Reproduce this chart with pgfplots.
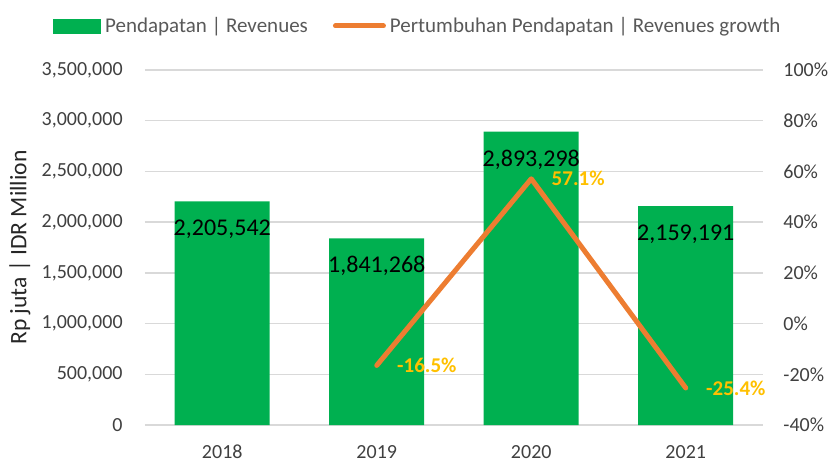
\documentclass[border=0pt]{standalone}
\usepackage{fontspec}
\setmainfont{Carlito}
\usepackage{pgfplots}
\usepackage{pgfplotstable}
\pgfplotsset{compat=1.18}

\definecolor{revgreen}{HTML}{00B050}
\definecolor{groworange}{HTML}{ED7D31}
\definecolor{labgold}{HTML}{FFC000}
\definecolor{gridgray}{HTML}{D9D9D9}
\definecolor{ticktext}{HTML}{404040}
\definecolor{legtext}{HTML}{595959}

% revenues, Rp juta
\pgfplotstableread{
x rev lab
0 2205542 2,205,542
1 1841268 1,841,268
2 2893298 2,893,298
3 2159191 2,159,191
}\revtable

% revenue growth, percent
\pgfplotstableread{
x growth lab
1 -16.5 -16.5
2 57.1 57.1
3 -25.4 -25.4
}\growthtable

\begin{document}
\begin{tikzpicture}
\pgfplotsset{
  base/.style={
    width=309pt, height=177.5pt, scale only axis,
    xmin=-0.5, xmax=3.5,
    major tick length=0pt,
    axis line style={draw=none},
    tick label style={font=\fontsize{10}{12}\selectfont, text=ticktext},
    /pgf/number format/assume math mode=true,
  },
}
\begin{axis}[base,
  ymin=0, ymax=3500000,
  ytick={0,500000,1000000,1500000,2000000,2500000,3000000,3500000},
  scaled y ticks=false,
  yticklabel style={/pgf/number format/fixed, /pgf/number format/precision=0,
    /pgf/number format/1000 sep={,}, anchor=east, xshift=-11pt, inner xsep=0pt},
  xtick={0,1,2,3},
  xticklabels={2018,2019,2020,2021},
  xticklabel style={anchor=center, yshift=-13.5pt},
  ymajorgrids,
  grid style={gridgray, line width=0.75pt},
  ylabel={Rp juta | IDR Million},
  ylabel style={at={(axis description cs:-0.2023,0.5)}, anchor=center,
    font=\fontsize{11.8}{14}\selectfont, text=black!85},
  ybar, bar width=47.5pt,
]
\addplot[fill=revgreen, draw=none,
  nodes near coords={\pgfplotspointmeta},
  point meta=explicit symbolic,
  nodes near coords style={anchor=center, yshift=-14pt, text=black,
    font=\fontsize{12}{14}\selectfont}]
  table[x=x, y=rev, meta=lab] {\revtable};
\end{axis}

\begin{axis}[base,
  hide x axis,
  ymin=-40, ymax=100,
  ytick={-40,-20,0,20,40,60,80,100},
  yticklabel pos=right,
  yticklabel={\pgfmathprintnumber{\tick}\%},
  yticklabel style={anchor=west, xshift=10pt, inner xsep=0pt},
  legend columns=-1,
  legend style={at={(-0.1489,1.124)}, anchor=west, draw=none, fill=none,
    inner sep=0pt, font=\fontsize{10.5}{12}\selectfont, text=legtext,
    /tikz/every even column/.append style={column sep=10.5pt}},
]
\addlegendimage{legend image code/.code={\fill[revgreen] (0pt,-3.5pt) rectangle (23.5pt,3.5pt);}}
\addlegendentry{Pendapatan | Revenues}
\addplot[groworange, line width=2.5pt, line cap=round, line join=round, mark=none,
  nodes near coords={\pgfplotspointmeta\%},
  point meta=explicit symbolic,
  nodes near coords style={anchor=west, xshift=9pt, inner sep=0pt, text=labgold,
    font=\bfseries\fontsize{10.5}{12}\selectfont},
  legend image code/.code={\draw[groworange, line width=2.5pt, line cap=round] (0pt,0pt) -- (24pt,0pt);}]
  table[x=x, y=growth, meta=lab] {\growthtable};
\addlegendentry{Pertumbuhan Pendapatan | Revenues growth}
\end{axis}

\pgfresetboundingbox
\path[use as bounding box] (-72.5pt,-19pt) rectangle (343pt,212.5pt);
\end{tikzpicture}
\end{document}
